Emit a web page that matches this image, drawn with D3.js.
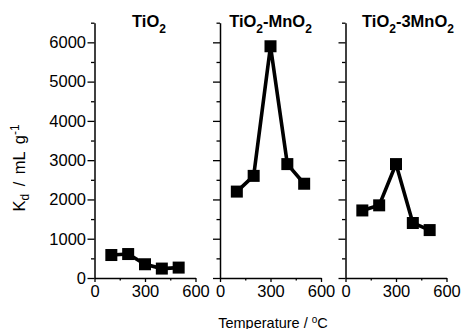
<!DOCTYPE html>
<html><head><meta charset="utf-8">
<script src="https://cdn.jsdelivr.net/npm/d3@7"></script>
<style>body{margin:0;background:#fff}svg{display:block}text{font-family:"Liberation Sans",Arial,sans-serif}</style>
</head><body><svg id="c" width="462" height="329"></svg>
<script>
const temperatures = [100, 200, 300, 400, 500];
const kdTiO2 = [585, 610, 350, 240, 265];
const kdTiO2MnO2 = [2200, 2600, 5900, 2900, 2400];
const kdTiO23MnO2 = [1720, 1850, 2900, 1400, 1220];
const panelTitles = [["TiO", "2", ""], ["TiO", "2", "-MnO", "2"], ["TiO", "2", "-3MnO", "2"]];
const yMajorTicks = [0, 1000, 2000, 3000, 4000, 5000, 6000];
const yMinorTicks = [500, 1500, 2500, 3500, 4500, 5500, 6500];
const xMajorTicks = [0, 300, 600];
const xMinorTicks = [150, 450];

const series = [kdTiO2, kdTiO2MnO2, kdTiO23MnO2];
const svg = d3.select("#c");
const panelX = [94.5, 220, 345.5];
const panelW = 101;
const y = d3.scaleLinear().domain([0, 6500]).range([278, 22.7]);

series.forEach((vals, i) => {
  const x = d3.scaleLinear().domain([0, 600]).range([panelX[i], panelX[i] + panelW]);
  const g = svg.append("g");
  const ya = g.append("g").attr("transform", `translate(${panelX[i]},0)`)
    .call(d3.axisLeft(y).tickValues(yMajorTicks).tickSize(7).tickSizeOuter(0)
      .tickFormat(i === 0 ? d3.format("d") : () => ""));
  ya.append("g").call(d3.axisLeft(y).tickValues(yMinorTicks).tickSize(3.5).tickSizeOuter(0).tickFormat(() => ""))
    .select(".domain").remove();
  const xa = g.append("g").attr("transform", `translate(0,${y(0)})`)
    .call(d3.axisBottom(x).tickValues(xMajorTicks).tickSize(4).tickSizeOuter(0).tickFormat(d3.format("d")));
  xa.append("g").call(d3.axisBottom(x).tickValues(xMinorTicks).tickSize(2.5).tickSizeOuter(0).tickFormat(() => ""))
    .select(".domain").remove();
  [ya, xa].forEach(a => {
    a.selectAll("path.domain").attr("stroke", "#000").attr("stroke-width", 1.5);
    a.selectAll(".tick line").attr("stroke", "#000").attr("stroke-width", 1.3);
    a.selectAll(".tick text").attr("font-size", 16.5).attr("fill", "#000")
      .attr("font-family", '"Liberation Sans",Arial,sans-serif');
  });
  ya.selectAll(".tick text").attr("x", -8.5);
  xa.selectAll(".tick text").attr("y", 7);

  const line = d3.line().x((d, j) => x(temperatures[j])).y(d => y(d));
  g.append("path").datum(vals).attr("d", line).attr("fill", "none")
    .attr("stroke", "#000").attr("stroke-width", 3.6).attr("stroke-linejoin", "miter");
  g.selectAll("rect.m").data(vals).enter().append("rect")
    .attr("x", (d, j) => x(temperatures[j]) - 6).attr("y", d => y(d) - 6)
    .attr("width", 12).attr("height", 12).attr("fill", "#000");

  const tcx = [149, 270.5, 408][i];
  const t = g.append("text").attr("x", tcx).attr("y", 27).attr("text-anchor", "middle")
    .attr("font-size", 16.5).attr("font-weight", "bold").attr("fill", "#000");
  panelTitles[i].forEach((p, k) => {
    if (p === "") return;
    const ts = t.append("tspan").text(p);
    if (k % 2 === 1) ts.attr("font-size", 12).attr("dy", 6);
    else if (k > 0) ts.attr("dy", -6);
  });
});

const yl = svg.append("text").attr("transform", "translate(25,168) rotate(-90)")
  .attr("text-anchor", "middle").attr("font-size", 16.5).attr("fill", "#000")
  .attr("word-spacing", 3);
yl.append("tspan").text("K");
yl.append("tspan").text("d").attr("font-size", 12).attr("dy", 4);
yl.append("tspan").text(" / mL g").attr("dy", -4);
yl.append("tspan").text("-1").attr("font-size", 12).attr("dy", -6);

const xl = svg.append("text").attr("x", 273).attr("y", 327.5).attr("text-anchor", "middle")
  .attr("font-size", 14.5).attr("fill", "#000");
xl.append("tspan").text("Temperature / ");
xl.append("tspan").text("o").attr("font-size", 10).attr("dy", -5);
xl.append("tspan").text("C").attr("dy", 5);
</script></body></html>
